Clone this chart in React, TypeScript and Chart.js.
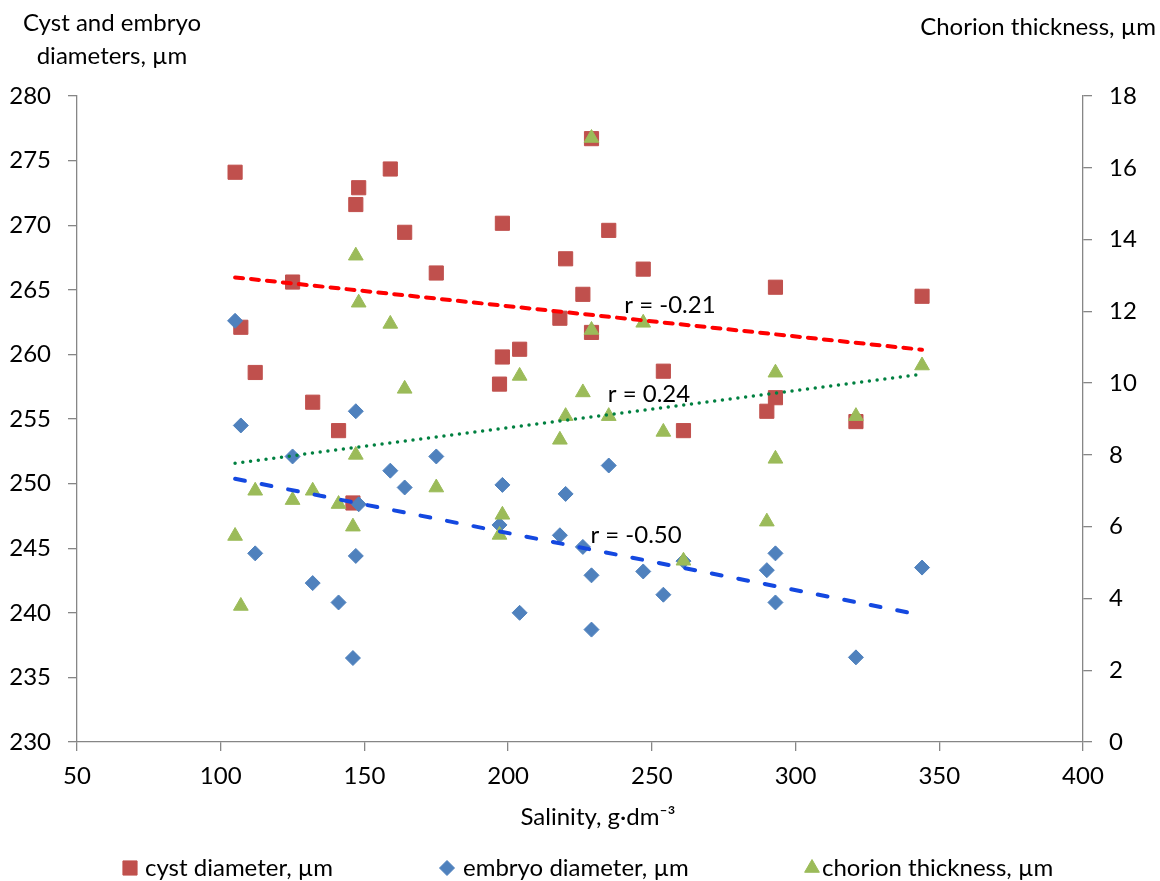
import React, { useEffect, useRef } from 'react';
import { Chart, registerables } from 'chart.js';
import { drawPoint } from 'chart.js/helpers';

Chart.register(...registerables);

// ---------- data ----------
const cystSalinity = [105, 107, 112, 125, 132, 141, 146, 147, 148, 159, 164, 175, 197, 198, 198, 204, 218, 220, 226, 229, 229, 235, 247, 254, 261, 290, 293, 293, 321, 344];
const cystDiameter = [274.1, 262.1, 258.6, 265.6, 256.3, 254.1, 248.5, 271.6, 272.9, 274.35, 269.45, 266.3, 257.7, 259.8, 270.15, 260.4, 262.8, 267.4, 264.65, 261.7, 276.7, 269.6, 266.6, 258.7, 254.1, 255.6, 256.65, 265.2, 254.8, 264.5];

const embryoSalinity = [105, 107, 112, 125, 132, 141, 146, 147, 147, 148, 159, 164, 175, 197, 198, 204, 218, 220, 226, 229, 229, 235, 247, 254, 261, 290, 293, 293, 321, 344];
const embryoDiameter = [262.6, 254.5, 244.6, 252.1, 242.3, 240.8, 236.5, 255.6, 244.4, 248.4, 251.0, 249.7, 252.1, 246.8, 249.9, 240.0, 246.0, 249.2, 245.1, 242.9, 238.7, 251.4, 243.2, 241.4, 244.0, 243.3, 244.6, 240.8, 236.55, 243.5];

const chorionSalinity = [105, 107, 112, 125, 132, 141, 146, 147, 147, 148, 159, 164, 175, 197, 198, 204, 218, 220, 226, 229, 229, 235, 247, 254, 261, 290, 293, 293, 321, 344];
const chorionThickness = [5.74, 3.79, 7.0, 6.74, 7.0, 6.63, 6.0, 13.55, 8.0, 12.24, 11.65, 9.84, 7.09, 5.77, 6.33, 10.2, 8.42, 9.08, 9.74, 11.48, 16.83, 9.08, 11.68, 8.64, 5.05, 6.14, 10.29, 7.89, 9.08, 10.49];

const trendSalinity = [105, 344];
const cystTrend = [265.96, 260.36];
const embryoTrend = [250.37, 239.81];
const chorionTrend = [7.77, 10.25];

const seriesNames = ['cyst diameter, µm', 'embryo diameter, µm', 'chorion thickness, µm'];
const correlationTexts = ['r = -0.21', 'r = 0.24', 'r = -0.50'];
const xAxisTitle = 'Salinity, g·dm⁻³';
const leftAxisTitle = ['Cyst and embryo', 'diameters, µm'];
const rightAxisTitle = 'Chorion thickness, µm';

// ---------- styles ----------
const FONT = 'Lato, "Open Sans", "DejaVu Sans", sans-serif';
const FS = 24;
const AXIS = '#868686';
const RED = '#C0504D';
const BLUE = '#4F81BD';
const GREEN = '#9BBB59';

const toPts = (xs: number[], ys: number[]) => xs.map((x, i) => ({ x, y: ys[i] }));

const overlayPlugin = {
  id: 'overlay',
  afterDraw(chart: any) {
    const ctx = chart.ctx;
    const sx = chart.scales.x;
    const sy = chart.scales.y;
    const sy1 = chart.scales.y1;
    ctx.save();
    ctx.fillStyle = '#000';
    ctx.font = `${FS}px ${FONT}`;
    ctx.textBaseline = 'alphabetic';

    // axis titles
    ctx.textAlign = 'center';
    ctx.fillText(leftAxisTitle[0], 112, 31);
    ctx.fillText(leftAxisTitle[1], 112, 64);
    ctx.textAlign = 'right';
    ctx.fillText(rightAxisTitle, 1156, 35);
    ctx.textAlign = 'center';
    ctx.fillText(xAxisTitle, 598, 825);

    // correlation labels (anchored in data coordinates)
    const anchors = [
      { x: 256.3, y: 263.85, s: sy },
      { x: 249.0, y: 257.0 , s: sy },
      { x: 244.5, y: 246.03, s: sy },
    ];
    anchors.forEach((a, i) => {
      ctx.fillText(correlationTexts[i], sx.getPixelForValue(a.x), a.s.getPixelForValue(a.y) + 8.5);
    });

    // legend
    const legendMarkerX = [130, 447, 812];
    const legendTextX = [145, 463, 822];
    const ds = chart.data.datasets.slice(0, 3);
    ds.forEach((d: any, i: number) => {
      ctx.fillStyle = d.backgroundColor;
      ctx.strokeStyle = d.borderColor;
      ctx.lineWidth = 1;
      drawPoint(ctx, { pointStyle: d.pointStyle, radius: d.pointRadius, borderWidth: 1, rotation: 0 }, legendMarkerX[i], 868);
      ctx.fillStyle = '#000';
      ctx.textAlign = 'left';
      ctx.fillText(d.label, legendTextX[i], 876);
    });
    ctx.restore();
  },
};

export default function App() {
  const ref = useRef<HTMLCanvasElement | null>(null);
  useEffect(() => {
    if (!ref.current) return;
    Chart.defaults.font.family = FONT;
    const tickFont = { size: FS, family: FONT };
    const chart = new Chart(ref.current, {
      type: 'scatter',
      data: {
        datasets: [
          {
            label: seriesNames[0],
            data: toPts(cystSalinity, cystDiameter),
            yAxisID: 'y',
            pointStyle: 'rect',
            pointRadius: 10,
            backgroundColor: RED,
            borderColor: RED,
            borderWidth: 1,
            order: 5,
          },
          {
            label: seriesNames[1],
            data: toPts(embryoSalinity, embryoDiameter),
            yAxisID: 'y',
            pointStyle: 'rectRot',
            pointRadius: 7.5,
            backgroundColor: BLUE,
            borderColor: BLUE,
            borderWidth: 1,
            order: 4,
          },
          {
            label: seriesNames[2],
            data: toPts(chorionSalinity, chorionThickness),
            yAxisID: 'y1',
            pointStyle: 'triangle',
            pointRadius: 8.5,
            backgroundColor: GREEN,
            borderColor: GREEN,
            borderWidth: 1,
            order: 3,
          },
          {
            label: 'cyst trend',
            data: toPts(trendSalinity, cystTrend),
            yAxisID: 'y',
            showLine: true,
            pointRadius: 0,
            borderColor: '#FF0000',
            borderWidth: 4,
            borderDash: [8, 8],
            borderCapStyle: 'round',
            order: 2,
          },
          {
            label: 'embryo trend',
            data: toPts(trendSalinity, embryoTrend),
            yAxisID: 'y',
            showLine: true,
            pointRadius: 0,
            borderColor: '#1448E0',
            borderWidth: 4,
            borderDash: [10, 17],
            borderCapStyle: 'round',
            order: 1,
          },
          {
            label: 'chorion trend',
            data: toPts(trendSalinity, chorionTrend),
            yAxisID: 'y1',
            showLine: true,
            pointRadius: 0,
            borderColor: '#008040',
            borderWidth: 3.5,
            borderDash: [0, 7.8],
            borderCapStyle: 'round',
            order: 0,
          },
        ] as any,
      },
      options: {
        responsive: false,
        animation: false,
        events: [],
        layout: { padding: { top: 96, left: 0, right: 0, bottom: 0 } },
        plugins: {
          legend: { display: false },
          tooltip: { enabled: false },
          title: { display: false },
        },
        scales: {
          x: {
            type: 'linear',
            position: 'bottom',
            min: 50,
            max: 400,
            ticks: { stepSize: 50, color: '#000', font: tickFont, padding: 11 },
            grid: { drawOnChartArea: false, drawTicks: true, tickLength: 9, color: AXIS, lineWidth: 1.3 },
            border: { display: true, color: AXIS, width: 1.3 },
            afterFit: (s: any) => { s.height = 139; },
          },
          y: {
            type: 'linear',
            position: 'left',
            min: 230,
            max: 280,
            ticks: { stepSize: 5, color: '#000', font: tickFont, padding: 17 },
            grid: { drawOnChartArea: false, drawTicks: true, tickLength: 9, color: AXIS, lineWidth: 1.3 },
            border: { display: true, color: AXIS, width: 1.3 },
            afterFit: (s: any) => { s.width = 77; },
          },
          y1: {
            type: 'linear',
            position: 'right',
            min: 0,
            max: 18,
            ticks: { stepSize: 2, color: '#000', font: tickFont, padding: 17 },
            grid: { drawOnChartArea: false, drawTicks: true, tickLength: 9, color: AXIS, lineWidth: 1.3 },
            border: { display: true, color: AXIS, width: 1.3 },
            afterFit: (s: any) => { s.width = 77; },
          },
        },
      } as any,
      plugins: [overlayPlugin],
    });
    return () => chart.destroy();
  }, []);

  return (
    <div style={{ position: 'fixed', left: 0, top: 0, width: 1160, height: 881, background: '#fff' }}>
      <canvas ref={ref} width={1160} height={881} style={{ display: 'block' }} />
    </div>
  );
}
